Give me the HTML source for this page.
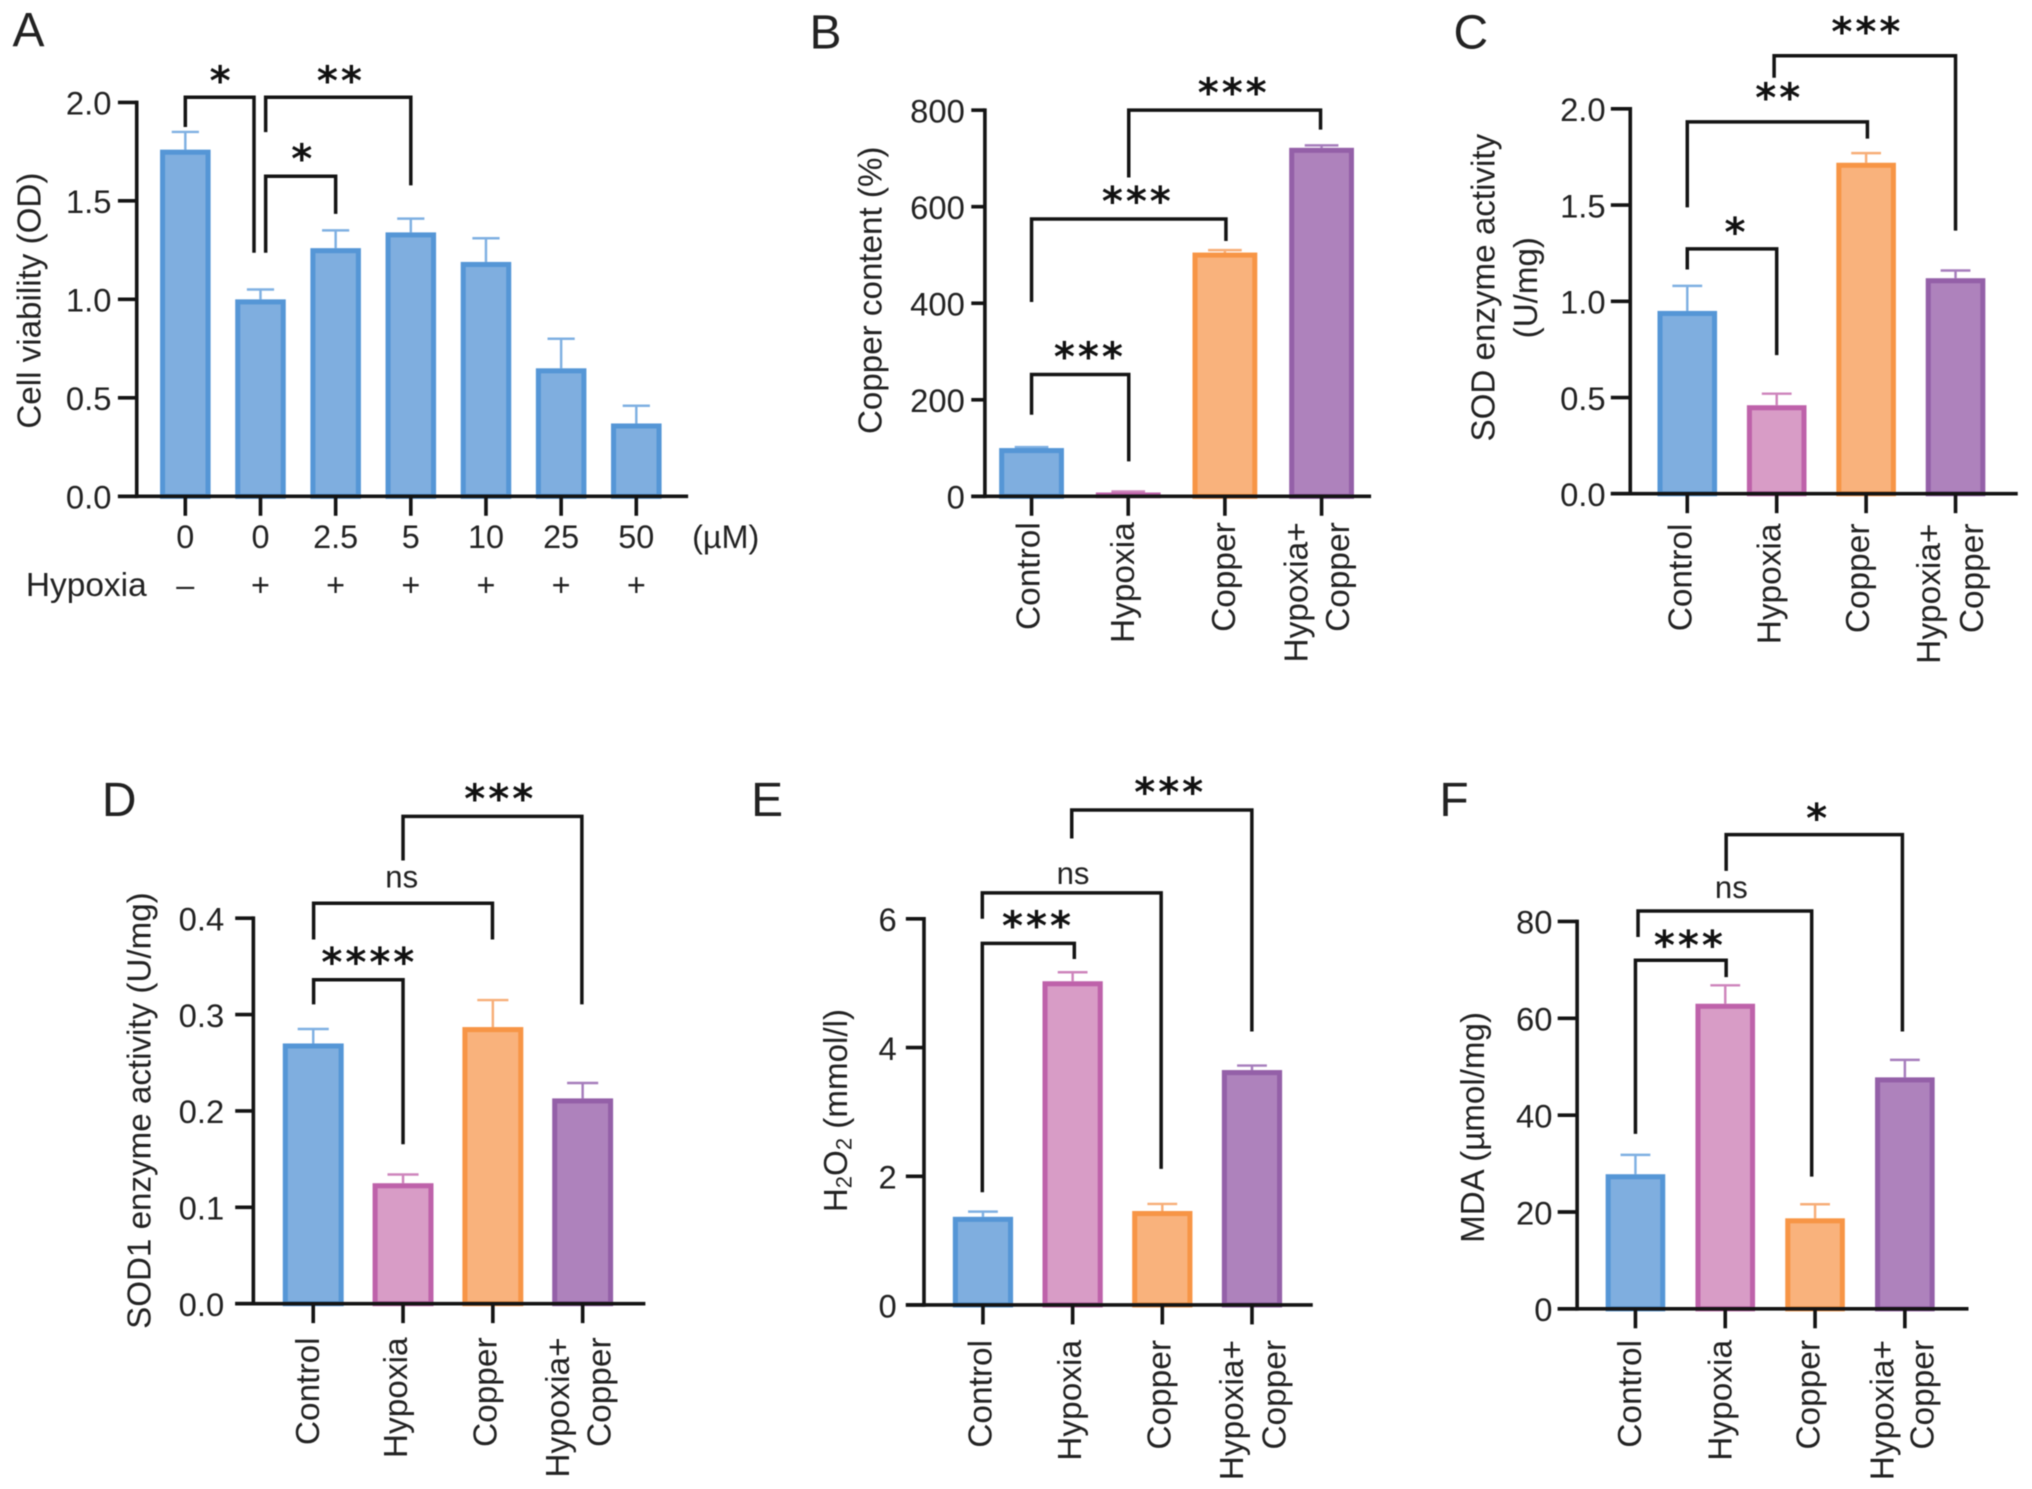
<!DOCTYPE html>
<html lang="en">
<head>
<meta charset="utf-8">
<title>Hypoxia and copper bar charts</title>
<style>
html,body{margin:0;padding:0;background:#fff;width:2032px;height:1489px;overflow:hidden}
svg{display:block;filter:blur(.6px)}
text{font-family:"Liberation Sans",Arial,sans-serif;fill:#222}
</style>
</head>
<body>
<svg id="figure" xmlns="http://www.w3.org/2000/svg" width="2032" height="1489" viewBox="0 0 1568 1149"></svg>
<script>
// ---- chart data ----
const groupCategories = ["Control", "Hypoxia", "Copper", "Hypoxia+ Copper"];
const doseCategories = ["0", "0", "2.5", "5", "10", "25", "50"];
const hypoxiaFlags = ["–", "+", "+", "+", "+", "+", "+"];

const viabilityValues = [1.76, 1.0, 1.26, 1.34, 1.19, 0.65, 0.37];
const viabilityErrors = [0.09, 0.05, 0.09, 0.07, 0.12, 0.15, 0.09];
const viabilityTicks = ["0.0", "0.5", "1.0", "1.5", "2.0"];

const copperValues = [100, 8, 505, 722];
const copperErrors = [2, 2, 5, 5];
const copperTicks = ["0", "200", "400", "600", "800"];

const sodValues = [0.95, 0.46, 1.72, 1.12];
const sodErrors = [0.13, 0.06, 0.05, 0.04];
const sodTicks = ["0.0", "0.5", "1.0", "1.5", "2.0"];

const sod1Values = [0.27, 0.125, 0.287, 0.213];
const sod1Errors = [0.015, 0.009, 0.028, 0.016];
const sod1Ticks = ["0.0", "0.1", "0.2", "0.3", "0.4"];

const h2o2Values = [1.37, 5.03, 1.46, 3.65];
const h2o2Errors = [0.08, 0.14, 0.11, 0.07];
const h2o2Ticks = ["0", "2", "4", "6"];

const mdaValues = [27.8, 63, 18.7, 47.8];
const mdaErrors = [4, 3.8, 2.9, 3.6];
const mdaTicks = ["0", "20", "40", "60", "80"];

// ---- drawing ----
const NS = "http://www.w3.org/2000/svg";
const root = document.getElementById("figure");
const fills = ["#7FAEDF", "#D89CC6", "#F9B27C", "#AE82BC"];
const strokes = ["#5596D6", "#BE62AA", "#F79546", "#9460A8"];
const errColors = ["#7FB0E2", "#CE85BC", "#F7AE78", "#A67DBC"];
const INK = "#141414";

function make(tag, parent, attrs) {
  const el = document.createElementNS(NS, tag);
  for (const k in attrs) el.setAttribute(k, attrs[k]);
  parent.appendChild(el);
  return el;
}
function drawLine(parent, name, x1, y1, x2, y2, color, w) {
  const el = make("line", parent, { x1, y1, x2, y2, stroke: color, "stroke-width": w });
  
  
  return el;
}
function drawText(parent, name, str, x, y, size, anchor) {
  const el = make("text", parent, { x, y, "font-size": size, "text-anchor": anchor || "middle" });
  el.textContent = str;
  
  
  return el;
}
function rotatedText(parent, name, str, x, y, size, anchor) {
  const el = make("text", parent, {
    transform: "translate(" + x + " " + y + ") rotate(-90)",
    "font-size": size, "text-anchor": anchor, "dominant-baseline": "central"
  });
  el.textContent = str;
  
  
  return el;
}
function drawBracket(parent, xl, yl, top, xr, yr) {
  const el = make("polyline", parent, {
    points: xl + "," + yl + " " + xl + "," + top + " " + xr + "," + top + " " + xr + "," + yr,
    fill: "none", stroke: INK, "stroke-width": 2.7
  });
  
  
}
function drawStars(parent, str, x, y) {
  if (str === "ns") {
    drawText(parent, "significance-ns", "ns", x, y + 8, 24);
    return;
  }
  const el = make("text", parent, {
    x: x + 1, y: y + 15, "font-size": 31, "text-anchor": "middle",
    "font-weight": "bold", "letter-spacing": 2.3
  });
  el.style.fontFamily = '"DejaVu Sans",sans-serif';
  el.style.fill = "#111";
  el.textContent = str;
  
  
}

function drawPanel(cfg) {
  const g = make("g", root, {});
  
  

  const yMax = Number(cfg.ticks[cfg.ticks.length - 1]);
  const yScale = v => cfg.y0 - (v / yMax) * (cfg.y0 - cfg.yTop);
  const xScale = i => cfg.firstX + i * cfg.stepX;

  drawText(g, "panel-letter", cfg.letter, cfg.letterX, cfg.letterY + 13.5, 37);

  cfg.values.forEach((v, i) => {
    const c = cfg.single ? 0 : i;
    const cx = xScale(i);
    const top = yScale(v);
    const errTop = yScale(v + cfg.errors[i]);
    const sw = Math.min(3.9, Math.max(1.5, cfg.y0 - top));

    drawLine(g, "error-stem", cx, top, cx, errTop, errColors[c], 1.9);
    drawLine(g, "error-cap", cx - cfg.capW / 2, errTop, cx + cfg.capW / 2, errTop, errColors[c], 1.9);

    const bar = make("rect", g, {
      x: cx - cfg.barW / 2 + sw / 2, y: top + sw / 2,
      width: cfg.barW - sw, height: Math.max(0, cfg.y0 - top - sw / 2),
      fill: fills[c], stroke: strokes[c], "stroke-width": sw
    });
    
    
  });

  // axes
  drawLine(g, "y-axis", cfg.axisX, cfg.yTop - 1.4, cfg.axisX, cfg.y0 + 1.4, INK, 2.8);
  drawLine(g, "x-axis", cfg.tickLeft, cfg.y0, cfg.right, cfg.y0, INK, 2.8);
  cfg.ticks.forEach(t => {
    const y = yScale(Number(t));
    drawLine(g, "y-tick", cfg.tickLeft, y, cfg.axisX, y, INK, 2.8);
    drawText(g, "y-tick-label", t, cfg.labelEnd, y + 9.5, 25.3, "end");
  });
  cfg.values.forEach((v, i) => {
    drawLine(g, "x-tick", xScale(i), cfg.y0, xScale(i), cfg.y0 + 15, INK, 2.8);
  });

  return { g, xScale, yScale };
}

function groupLabels(g, pos, top) {
  rotatedText(g, "category-label", groupCategories[0], pos[0], top, 25.8, "end");
  rotatedText(g, "category-label", groupCategories[1], pos[1], top, 25.8, "end");
  rotatedText(g, "category-label", groupCategories[2], pos[2], top, 25.8, "end");
  const parts = groupCategories[3].split(" ");
  rotatedText(g, "category-label", parts[0], pos[3], top, 25.8, "end");
  rotatedText(g, "category-label", parts[1], pos[4], top, 25.8, "end");
}

// Panel A
const pa = drawPanel({
  letter: "A", letterX: 22, letterY: 22, values: viabilityValues, errors: viabilityErrors, ticks: viabilityTicks,
  axisX: 105.5, yTop: 79, y0: 383, right: 531, tickLeft: 91, labelEnd: 86, firstX: 143, stepX: 58, barW: 39, capW: 21, single: true
});
doseCategories.forEach((d, i) => {
  drawText(pa.g, "dose-label", d, pa.xScale(i), 423, 25);
});
hypoxiaFlags.forEach((f, i) => {
  drawText(pa.g, "hypoxia-flag", f, pa.xScale(i), 460, 25);
});
drawText(pa.g, "dose-unit", "(µM)", 560, 423, 25);
drawText(pa.g, "hypoxia-row-label", "Hypoxia", 20, 460, 25.8, "start");
rotatedText(pa.g, "y-axis-title", "Cell viability (OD)", 23, 232, 25.6, "middle");
drawBracket(pa.g, 143, 98, 75, 196, 195);
drawBracket(pa.g, 205, 102, 75, 317, 143);
drawBracket(pa.g, 205, 195, 136, 259, 165);
drawStars(pa.g, "*", 170, 58);
drawStars(pa.g, "**", 262, 58);
drawStars(pa.g, "*", 233, 118);

// Panel B
const pb = drawPanel({
  letter: "B", letterX: 637, letterY: 24, values: copperValues, errors: copperErrors, ticks: copperTicks,
  axisX: 760, yTop: 85, y0: 383, right: 1058, tickLeft: 749.5, labelEnd: 744.5, firstX: 796, stepX: 74.6, barW: 50, capW: 26
});
groupLabels(pb.g, [794, 867, 945, 1001, 1033], 403);
rotatedText(pb.g, "y-axis-title", "Copper content (%)", 672, 224, 25.6, "middle");
drawBracket(pb.g, 796, 320, 289, 871, 356);
drawBracket(pb.g, 796, 233, 169, 946, 186);
drawBracket(pb.g, 871, 137, 85, 1019, 100);
drawStars(pb.g, "***", 840, 271);
drawStars(pb.g, "***", 877, 151);
drawStars(pb.g, "***", 951, 67);

// Panel C
const pc = drawPanel({
  letter: "C", letterX: 1135, letterY: 24, values: sodValues, errors: sodErrors, ticks: sodTicks,
  axisX: 1258, yTop: 84, y0: 381, right: 1557, tickLeft: 1243, labelEnd: 1239, firstX: 1302, stepX: 69, barW: 46, capW: 23
});
groupLabels(pc.g, [1297, 1366, 1434, 1489, 1522], 404);
rotatedText(pc.g, "y-axis-title", "SOD enzyme activity", 1145, 222, 25.6, "middle");
rotatedText(pc.g, "y-axis-title-unit", "(U/mg)", 1178, 222, 25.6, "middle");
drawBracket(pc.g, 1302, 208, 192, 1371, 274);
drawBracket(pc.g, 1302, 160, 94, 1441, 107);
drawBracket(pc.g, 1369, 60, 43, 1509, 178);
drawStars(pc.g, "*", 1339, 175);
drawStars(pc.g, "**", 1372, 71);
drawStars(pc.g, "***", 1440, 20);

// Panel D
const pd = drawPanel({
  letter: "D", letterX: 92, letterY: 616, values: sod1Values, errors: sod1Errors, ticks: sod1Ticks,
  axisX: 195.5, yTop: 708.5, y0: 1006, right: 498, tickLeft: 181.5, labelEnd: 173, firstX: 241.7, stepX: 69.3, barW: 47, capW: 24
});
groupLabels(pd.g, [238, 306, 375, 431, 463], 1032);
rotatedText(pd.g, "y-axis-title", "SOD1 enzyme activity (U/mg)", 108, 857, 25.6, "middle");
drawBracket(pd.g, 242, 775, 756, 311, 883);
drawBracket(pd.g, 242, 725, 697, 380, 725);
drawBracket(pd.g, 311, 664, 630, 449, 775);
drawStars(pd.g, "****", 284, 738);
drawStars(pd.g, "ns", 310, 677);
drawStars(pd.g, "***", 385, 612);

// Panel E
const pe = drawPanel({
  letter: "E", letterX: 592, letterY: 616, values: h2o2Values, errors: h2o2Errors, ticks: h2o2Ticks,
  axisX: 713, yTop: 709, y0: 1007, right: 1013, tickLeft: 699, labelEnd: 692, firstX: 758.5, stepX: 69.2, barW: 46.5, capW: 23
});
groupLabels(pe.g, [757, 826, 895, 951, 984], 1034);
const h2o2Title = rotatedText(pe.g, "y-axis-title", "", 645, 857, 25.6, "middle");
const tH = make("tspan", h2o2Title, {});
tH.textContent = "H";
const t2a = make("tspan", h2o2Title, { dy: 6, "font-size": 17 });
t2a.textContent = "2";
const tO = make("tspan", h2o2Title, { dy: -6 });
tO.textContent = "O";
const t2b = make("tspan", h2o2Title, { dy: 6, "font-size": 17 });
t2b.textContent = "2";
const tRest = make("tspan", h2o2Title, { dy: -6 });
tRest.textContent = " (mmol/l)";
drawBracket(pe.g, 758, 920, 728, 829, 740);
drawBracket(pe.g, 758, 709, 689, 896, 902);
drawBracket(pe.g, 827, 647, 625, 966, 796);
drawStars(pe.g, "***", 800, 710);
drawStars(pe.g, "ns", 828, 674);
drawStars(pe.g, "***", 902, 607);

// Panel F
const pf = drawPanel({
  letter: "F", letterX: 1122, letterY: 616, values: mdaValues, errors: mdaErrors, ticks: mdaTicks,
  axisX: 1217, yTop: 711, y0: 1010, right: 1519, tickLeft: 1202, labelEnd: 1198, firstX: 1262, stepX: 69.3, barW: 46, capW: 23
});
groupLabels(pf.g, [1258, 1328, 1396, 1453, 1484], 1034);
rotatedText(pf.g, "y-axis-title", "MDA (µmol/mg)", 1137, 870, 25.6, "middle");
drawBracket(pf.g, 1262, 875, 741, 1332, 754);
drawBracket(pf.g, 1264, 723, 703, 1398, 908);
drawBracket(pf.g, 1332, 672, 644, 1468, 796);
drawStars(pf.g, "***", 1303, 725);
drawStars(pf.g, "ns", 1336, 685);
drawStars(pf.g, "*", 1402, 627);
</script>
</body>
</html>
